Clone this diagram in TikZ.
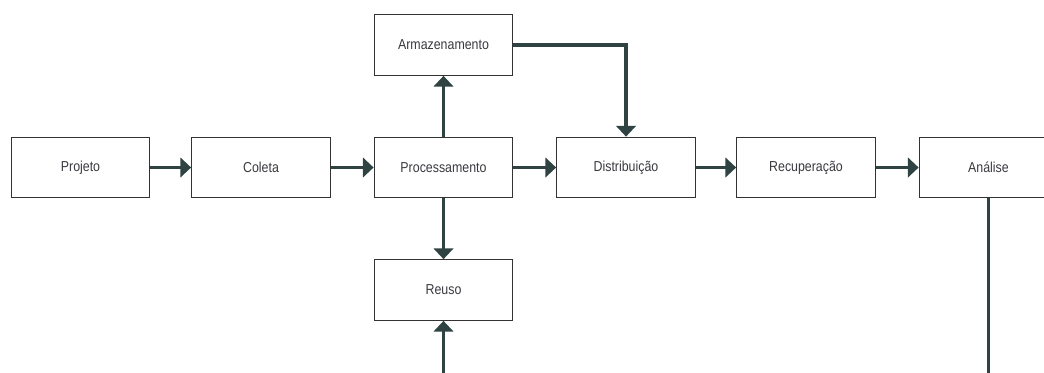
\documentclass[tikz,border=0pt]{standalone}
\usepackage{fontspec}
\setmainfont{Liberation Sans}[FakeStretch=0.86]
\usetikzlibrary{arrows.meta}
\definecolor{linec}{HTML}{2F4442}
\definecolor{boxc}{HTML}{333333}
\definecolor{textc}{HTML}{3A3A40}
\tikzset{
  stage/.style={draw=boxc, line width=0.8pt, fill=white, minimum width=104pt, minimum height=45.5pt, inner sep=0pt, font=\fontsize{10.8pt}{12pt}\selectfont, text=textc},
  conn/.style={draw=linec, line width=2.3pt},
  arr/.style={conn, -{Triangle[length=8pt,width=14.5pt]}}
}
\begin{document}
\begin{tikzpicture}[x=0.75pt,y=-0.75pt]
\useasboundingbox (0,0) rectangle (1044,372);
\clip (0,0) rectangle (1044,372);
\node[stage] (projeto) at (80.5,167.5) {Projeto};
\node[stage] (coleta) at (261,167.5) {Coleta};
\node[stage] (proc) at (443.5,167.5) {Processamento};
\node[stage] (dist) at (626,167.5) {Distribuição};
\node[stage] (recup) at (806,167.5) {Recuperação};
\node[stage] (anal) at (988.5,167.5) {Análise};
\node[stage] (arm) at (443.5,45) {Armazenamento};
\node[stage] (reuso) at (443.5,290) {Reuso};
\coordinate (reusoin) at (443.5,380);
\coordinate (analout) at (988.5,380);
\draw[arr] (projeto) -- (coleta);
\draw[arr] (coleta) -- (proc);
\draw[arr] (proc) -- (dist);
\draw[arr] (dist) -- (recup);
\draw[arr] (recup) -- (anal);
\draw[arr] (proc) -- (arm);
\draw[arr] (proc) -- (reuso);
\draw[arr] (arm.east) -| (dist.north);
\draw[arr] (reusoin) -- (reuso.south);
\draw[conn] (anal.south) -- (analout);
\end{tikzpicture}
\end{document}
